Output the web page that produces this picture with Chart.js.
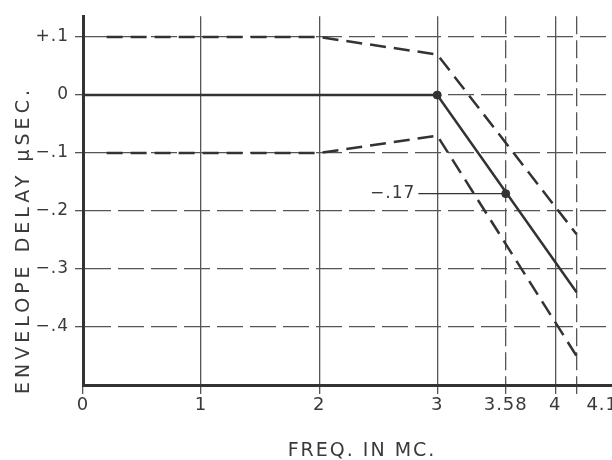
<!DOCTYPE html>
<html>
<head>
<meta charset="utf-8">
<script src="https://cdn.jsdelivr.net/npm/chart.js@4.4.0/dist/chart.umd.min.js"></script>
<style>
  html, body { margin: 0; padding: 0; background: #fff; }
  #wrap { width: 612px; height: 460px; }
</style>
</head>
<body>
<div id="wrap"><canvas id="delayChart"></canvas></div>
<script>
// Data (x = freq in Mc, y = envelope delay in usec)
const centerX = [0, 3, 4.18];
const centerY = [0, 0, -0.34];
const upperX = [0.2, 2, 3, 4.18];
const upperY = [0.1, 0.1, 0.07, -0.24];
const lowerX = [0.2, 2, 3, 4.18];
const lowerY = [-0.1, -0.1, -0.07, -0.45];
const markX = [3, 3.58];
const markY = [0, -0.17];
const noteX = [2.84, 3.58];
const noteY = [-0.17, -0.17];
const noteText = "\u2212.17";

const xTicks = [0, 1, 2, 3, 3.58, 4, 4.18];
// last label padded so it sits right of its line, like the original
const xTickLabels = ["0", "1", "2", "3", "3.58", "4", "\u2003\u2003\u2003 4.18"];
const xDashed = [3.58, 4.18];
const yTicks = [0.1, 0, -0.1, -0.2, -0.3, -0.4];
const yTickLabels = ["+.1", "0", "\u2212.1", "\u2212.2", "\u2212.3", "\u2212.4"];

const xTitle = "FREQ. IN MC.";
const yTitle = "ENVELOPE DELAY \u03BCSEC.";

const ink = "#333";
const textInk = "#3a3a3a";
const gridInk = "#555";
const fontFamily = "'DejaVu Sans', sans-serif";

function toPoints(xs, ys) {
  return xs.map((x, i) => ({ x, y: ys[i] }));
}

// draws the axis titles and the -.17 note
const textPlugin = {
  id: "textPlugin",
  beforeDraw(chart) {
    chart.ctx.letterSpacing = "1px";
  },
  afterDatasetsDraw(chart) {
    const ctx = chart.ctx;
    const xs = chart.scales.x;
    const ys = chart.scales.y;
    ctx.save();
    ctx.fillStyle = textInk;

    // note label
    ctx.font = "17px " + fontFamily;
    ctx.letterSpacing = "1px";
    ctx.textAlign = "right";
    ctx.textBaseline = "middle";
    ctx.fillText(noteText, xs.getPixelForValue(noteX[0]) - 3, ys.getPixelForValue(noteY[0]));

    // x title
    ctx.font = "19px " + fontFamily;
    ctx.letterSpacing = "2px";
    ctx.textAlign = "center";
    ctx.fillText(xTitle, 362, 451);

    // y title
    ctx.translate(24, 240);
    ctx.rotate(-Math.PI / 2);
    ctx.letterSpacing = "4px";
    ctx.fillText(yTitle, 0, 0);
    ctx.restore();
  },
};

const ctx = document.getElementById("delayChart").getContext("2d");

const delayChart = new Chart(ctx, {
  type: "scatter",
  data: {
    datasets: [
      {
        label: "note line",
        data: toPoints(noteX, noteY),
        showLine: true,
        borderColor: ink,
        borderWidth: 1.3,
        pointRadius: 0,
      },
      {
        label: "center",
        data: toPoints(centerX, centerY),
        showLine: true,
        borderColor: ink,
        borderWidth: 2.5,
        pointRadius: 0,
      },
      {
        label: "upper limit",
        data: toPoints(upperX, upperY),
        showLine: true,
        borderColor: ink,
        borderWidth: 2.5,
        borderDash: [16, 8],
        pointRadius: 0,
      },
      {
        label: "lower limit",
        data: toPoints(lowerX, lowerY),
        showLine: true,
        borderColor: ink,
        borderWidth: 2.5,
        borderDash: [16, 8],
        pointRadius: 0,
      },
      {
        label: "points",
        data: toPoints(markX, markY),
        showLine: false,
        backgroundColor: ink,
        borderColor: ink,
        pointRadius: 4,
      },
    ],
  },
  options: {
    responsive: true,
    maintainAspectRatio: false,
    animation: false,
    layout: { autoPadding: false, padding: { top: 13, right: 0, left: 0, bottom: 0 } },
    plugins: {
      legend: { display: false },
      tooltip: { enabled: false },
    },
    scales: {
      x: {
        type: "linear",
        min: 0,
        max: 4.48,
        afterBuildTicks: (scale) => {
          scale.ticks = xTicks.map((v) => ({ value: v }));
        },
        afterFit: (scale) => {
          scale.height = 75;
          scale.paddingRight = 0;
          scale.paddingLeft = 0;
        },
        ticks: {
          autoSkip: false,
          maxRotation: 0,
          padding: 1,
          color: textInk,
          font: { family: fontFamily, size: 18 },
          callback: (value, index) => xTickLabels[index],
        },
        grid: {
          color: gridInk,
          lineWidth: 1.3,
          drawTicks: true,
          tickLength: 9,
          tickColor: gridInk,
        },
        border: {
          display: true,
          color: ink,
          width: 3,
          dash: (c) => (c.tick && xDashed.includes(c.tick.value) ? [18, 6] : []),
        },
      },
      y: {
        type: "linear",
        min: -0.5,
        max: 0.136,
        afterBuildTicks: (scale) => {
          scale.ticks = yTicks.map((v) => ({ value: v }));
        },
        afterFit: (scale) => {
          scale.width = 83;
        },
        ticks: {
          autoSkip: false,
          padding: 6,
          color: textInk,
          font: { family: fontFamily, size: 17 },
          callback: (value, index) => yTickLabels[index],
        },
        grid: {
          color: gridInk,
          lineWidth: 1.3,
          drawTicks: true,
          tickLength: 8,
          tickColor: gridInk,
        },
        border: {
          display: true,
          color: ink,
          width: 3,
          dash: (c) => (c.tick ? [26, 7] : []),
        },
      },
    },
  },
  plugins: [textPlugin],
});
</script>
</body>
</html>
